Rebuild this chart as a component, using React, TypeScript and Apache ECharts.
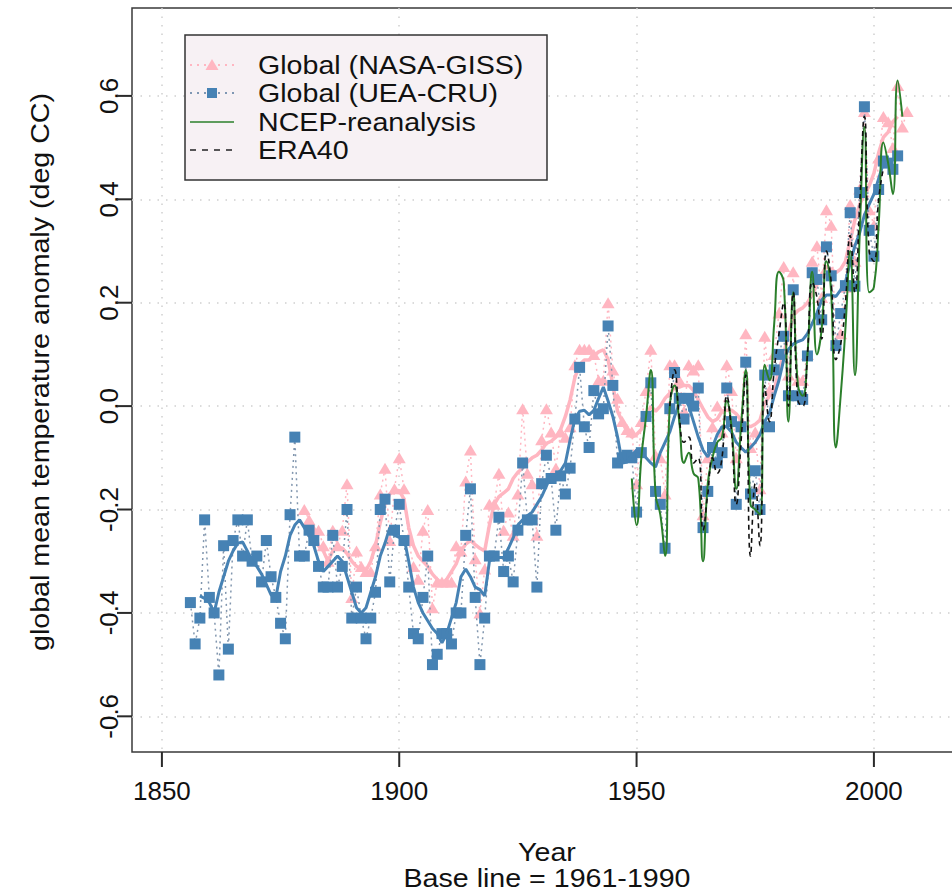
import React, { useEffect, useRef } from "react";
import * as echarts from "echarts";

// ---- data ----
const xTicks = [1850, 1900, 1950, 2000];
const yTicks = [-0.6, -0.4, -0.2, 0.0, 0.2, 0.4, 0.6];

// UEA-CRU annual global anomaly, 1856..2005
const cruStart = 1856;
const cruValues = [
  -0.38, -0.46, -0.41, -0.22, -0.37, -0.40, -0.52, -0.27, -0.47, -0.26,
  -0.22, -0.29, -0.22, -0.30, -0.29, -0.34, -0.26, -0.33, -0.37, -0.42,
  -0.45, -0.21, -0.06, -0.29, -0.29, -0.24, -0.26, -0.31, -0.35, -0.35,
  -0.25, -0.35, -0.31, -0.20, -0.41, -0.35, -0.41, -0.45, -0.41, -0.36,
  -0.20, -0.18, -0.34, -0.24, -0.19, -0.26, -0.35, -0.44, -0.45, -0.37,
  -0.29, -0.50, -0.48, -0.44, -0.44, -0.46, -0.40, -0.40, -0.25, -0.16,
  -0.37, -0.50, -0.41, -0.29, -0.29, -0.215, -0.32, -0.29, -0.34, -0.24,
  -0.11, -0.22, -0.22, -0.35, -0.15, -0.095, -0.14, -0.24, -0.135, -0.17,
  -0.12, -0.025, 0.075, -0.04, -0.08, 0.03, -0.015, -0.005, 0.155, 0.04,
  -0.11, -0.10, -0.095, -0.10, -0.205, -0.09, -0.02, 0.045, -0.165, -0.19,
  -0.275, -0.005, 0.065, 0.015, -0.025, 0.015, 0.0, 0.035, -0.235, -0.165,
  -0.08, -0.11, -0.09, 0.035, -0.03, -0.19, -0.04, 0.085, -0.17, -0.125,
  -0.20, 0.06, -0.04, 0.07, 0.10, 0.135, 0.02, 0.225, 0.02, 0.013,
  0.097, 0.258, 0.245, 0.167, 0.308, 0.252, 0.117, 0.179, 0.233, 0.374,
  0.232, 0.413, 0.579, 0.34, 0.29, 0.419, 0.474, 0.47, 0.458, 0.484,
];

// UEA-CRU smoothed curve, 1858..2003
const cruSmoothStart = 1858;
const cruSmoothValues = [
  -0.367, -0.372, -0.38, -0.40, -0.36, -0.33, -0.30, -0.28, -0.265, -0.263,
  -0.28, -0.30, -0.31, -0.325, -0.345, -0.365, -0.37, -0.32, -0.29, -0.25,
  -0.23, -0.22, -0.235, -0.25, -0.27, -0.30, -0.32, -0.31, -0.30, -0.29,
  -0.30, -0.33, -0.36, -0.39, -0.40, -0.39, -0.36, -0.33, -0.29, -0.265,
  -0.235, -0.25, -0.254, -0.254, -0.30, -0.35, -0.38, -0.40, -0.415, -0.43,
  -0.44, -0.458, -0.44, -0.41, -0.38, -0.33, -0.315, -0.33, -0.35, -0.355,
  -0.367, -0.30, -0.293, -0.293, -0.293, -0.275, -0.255, -0.23, -0.22, -0.212,
  -0.205, -0.19, -0.175, -0.155, -0.134, -0.132, -0.125, -0.11, -0.065, -0.025,
  -0.01, -0.008, -0.017, -0.008, 0.015, 0.037, 0.01, -0.02, -0.06, -0.11,
  -0.108, -0.095, -0.085, -0.09, -0.10, -0.11, -0.118, -0.09, -0.07, -0.05,
  -0.02, 0.005, 0.018, 0.0, -0.03, -0.06, -0.085, -0.098, -0.079, -0.055,
  -0.04, -0.04, -0.05, -0.07, -0.08, -0.089, -0.08, -0.07, -0.055, -0.03,
  -0.014, 0.02, 0.05, 0.09, 0.11, 0.12, 0.125, 0.128, 0.14, 0.16,
  0.18, 0.205, 0.215, 0.215, 0.212, 0.225, 0.24, 0.277, 0.31, 0.335,
  0.37, 0.39, 0.41, 0.44, 0.47, 0.475,
];

// NASA-GISS annual global anomaly, 1880..2007
const gissStart = 1880;
const gissValues = [
  -0.20, -0.22, -0.24, -0.24, -0.27, -0.30, -0.24, -0.27, -0.24, -0.15,
  -0.37, -0.28, -0.31, -0.32, -0.32, -0.27, -0.17, -0.12, -0.26, -0.16,
  -0.10, -0.16, -0.26, -0.31, -0.335, -0.24, -0.20, -0.39, -0.34, -0.34,
  -0.34, -0.34, -0.27, -0.28, -0.145, -0.085, -0.295, -0.40, -0.315, -0.19,
  -0.19, -0.13, -0.24, -0.205, -0.25, -0.17, -0.005, -0.13, -0.15, -0.25,
  -0.065, -0.005, -0.05, -0.12, -0.05, -0.06, -0.04, 0.08, 0.11, 0.11,
  0.11, 0.10, 0.05, 0.05, 0.20, 0.07, 0.015, -0.03, -0.045, -0.05,
  -0.15, -0.03, 0.03, 0.11, -0.095, -0.10, -0.17, 0.08, 0.08, 0.05,
  -0.01, 0.08, 0.07, 0.08, -0.21, -0.10, -0.04, 0.0, -0.05, 0.08,
  0.03, -0.10, -0.03, 0.14, -0.08, -0.05, -0.16, 0.135, 0.03, 0.10,
  0.18, 0.27, 0.06, 0.26, 0.05, 0.05, 0.10, 0.28, 0.31, 0.21,
  0.38, 0.35, 0.12, 0.14, 0.23, 0.39, 0.28, 0.42, 0.57, 0.38,
  0.35, 0.48, 0.56, 0.55, 0.50, 0.62, 0.54, 0.57,
];

// NASA-GISS smoothed curve, 1882..2005
const gissSmoothStart = 1882;
const gissSmoothValues = [
  -0.24, -0.27, -0.28, -0.30, -0.28, -0.273, -0.275, -0.285, -0.30, -0.31,
  -0.315, -0.318, -0.30, -0.27, -0.225, -0.19, -0.17, -0.165, -0.163, -0.18,
  -0.235, -0.27, -0.29, -0.30, -0.31, -0.325, -0.335, -0.344, -0.335, -0.32,
  -0.305, -0.28, -0.267, -0.26, -0.268, -0.275, -0.28, -0.23, -0.19, -0.175,
  -0.168, -0.16, -0.14, -0.128, -0.12, -0.108, -0.10, -0.095, -0.085, -0.072,
  -0.068, -0.06, -0.045, -0.02, 0.012, 0.055, 0.08, 0.089, 0.089, 0.097,
  0.105, 0.109, 0.09, 0.04, -0.01, -0.03, -0.05, -0.06, -0.055, -0.045,
  -0.02, 0.0, -0.01, 0.0, 0.015, 0.025, 0.035, 0.037, 0.04, 0.04,
  0.03, 0.012, -0.005, -0.021, -0.03, -0.025, -0.01, -0.008, -0.008, -0.015,
  -0.027, -0.035, -0.04, -0.035, -0.027, 0.005, 0.02, 0.031, 0.07, 0.10,
  0.14, 0.175, 0.185, 0.19, 0.20, 0.215, 0.235, 0.255, 0.27, 0.265,
  0.258, 0.265, 0.28, 0.32, 0.36, 0.39, 0.41, 0.426, 0.45, 0.49,
  0.52, 0.53, 0.55, 0.56,
];

// NCEP reanalysis, 1949..2006
const ncepStart = 1949;
const ncepValues = [
  -0.14, -0.23, -0.10, -0.02, 0.07, -0.17, -0.21, -0.29, 0.0, 0.04,
  -0.03, -0.11, -0.09, -0.13, -0.14, -0.30, -0.15, -0.10, -0.07, -0.06,
  0.01, -0.04, -0.16, -0.04, 0.07, -0.19, -0.20, -0.21, 0.08, 0.05,
  0.16, 0.26, 0.24, -0.03, 0.22, 0.04, 0.02, 0.10, 0.26, 0.10,
  0.15, 0.28, 0.22, -0.08, 0.02, 0.15, 0.30, 0.06, 0.33, 0.54,
  0.22, 0.23, 0.35, 0.51, 0.47, 0.41, 0.63, 0.56,
];

// ERA40, 1957..2002
const eraStart = 1957;
const eraValues = [
  0.0, 0.07, -0.02, -0.07, -0.06, -0.11, -0.10, -0.24, -0.17, -0.10,
  -0.13, -0.10, 0.02, -0.05, -0.19, -0.07, 0.06, -0.29, -0.15, -0.27,
  0.04, -0.03, 0.07, 0.14, 0.20, 0.0, 0.22, 0.01, 0.0, 0.10,
  0.24, 0.21, 0.13, 0.30, 0.24, 0.09, 0.12, 0.20, 0.33, 0.22,
  0.39, 0.56, 0.30, 0.28, 0.40, 0.46,
];

const legendLabels = [
  "Global (NASA-GISS)",
  "Global (UEA-CRU)",
  "NCEP-reanalysis",
  "ERA40",
];
const xTitle = "Year";
const xSubtitle = "Base line = 1961-1990";
const yTitle = "global mean temperature anomaly (deg CC)";

// ---- styling / layout ----
const FONT = "'Liberation Sans', Arial, Helvetica, sans-serif";
const PINK = "#FFB6C1";
const BLUE = "#4682B4";
const GREEN = "#2b7f2b";
const FRAME = "#3a3a3a";
const GRID_L = 132;
const GRID_T = 8;
const GRID_W = 830;
const GRID_H = 744;
const X_MIN = 1843.7;
const X_MAX = 2018.56;
const Y_MIN = -0.669;
const Y_MAX = 0.77;
const TEXT_STRETCH = 1.1;
const TICK_LEN = 15;

const xFirst = xTicks[0];
const xLast = xTicks[xTicks.length - 1];
const yFirst = yTicks[0];
const yLast = yTicks[yTicks.length - 1];
// same linear mapping as the data grid (used only for tick/grid layout)
const xPx = (v: number) => GRID_L + ((v - X_MIN) / (X_MAX - X_MIN)) * GRID_W;
const yPx = (v: number) => GRID_T + ((Y_MAX - v) / (Y_MAX - Y_MIN)) * GRID_H;

const toPairs = (start: number, vals: number[]) =>
  vals.map((v, i) => [start + i, v]);

const textStyle = (text: string, align: string) => ({
  text,
  font: `26px ${FONT}`,
  fill: "#111",
  textAlign: align,
  textVerticalAlign: "middle",
  align,
  verticalAlign: "middle",
});

function buildLegend() {
  const left = 185;
  const top = 35;
  const rows = [65, 93, 122, 150];
  const lx0 = 190;
  const lx1 = 234;
  const mid = (lx0 + lx1) / 2;
  const els: any[] = [
    {
      type: "rect",
      shape: { x: left, y: top, width: 362, height: 145 },
      style: { fill: "#f7f1f4", stroke: "#333", lineWidth: 1.5 },
      z: 100,
    },
  ];
  els.push({
    type: "line",
    shape: { x1: lx0, y1: rows[0], x2: lx1, y2: rows[0] },
    style: { stroke: PINK, lineWidth: 2, lineDash: [2, 5] },
    z: 101,
  });
  els.push({
    type: "polygon",
    shape: {
      points: [
        [mid, rows[0] - 6],
        [mid + 6.5, rows[0] + 5],
        [mid - 6.5, rows[0] + 5],
      ],
    },
    style: { fill: PINK },
    z: 102,
  });
  els.push({
    type: "line",
    shape: { x1: lx0, y1: rows[1], x2: lx1, y2: rows[1] },
    style: { stroke: "#7f97b3", lineWidth: 2, lineDash: [2, 5] },
    z: 101,
  });
  els.push({
    type: "rect",
    shape: { x: mid - 5, y: rows[1] - 5, width: 10, height: 10 },
    style: { fill: BLUE },
    z: 102,
  });
  els.push({
    type: "line",
    shape: { x1: lx0, y1: rows[2], x2: lx1, y2: rows[2] },
    style: { stroke: GREEN, lineWidth: 1.5 },
    z: 101,
  });
  els.push({
    type: "line",
    shape: { x1: lx0, y1: rows[3], x2: lx1, y2: rows[3] },
    style: { stroke: "#222", lineWidth: 1.5, lineDash: [6, 6] },
    z: 101,
  });
  legendLabels.forEach((t, i) => {
    els.push({
      type: "text",
      x: 258,
      y: rows[i],
      scaleX: TEXT_STRETCH,
      style: textStyle(t, "left"),
      z: 103,
    });
  });
  return els;
}

// tick marks outside the frame, as thin filled rects
function buildTicks() {
  const bottom = GRID_T + GRID_H;
  const els: any[] = [];
  xTicks.forEach((v) => {
    const p = xPx(v);
    els.push({
      type: "rect",
      shape: { x: p - 1, y: bottom, width: 2, height: TICK_LEN },
      style: { fill: "#2a2a2a", stroke: "none" },
      z: 100,
    });
  });
  yTicks.forEach((v) => {
    const p = yPx(v);
    els.push({
      type: "rect",
      shape: { x: GRID_L - TICK_LEN, y: p - 1, width: TICK_LEN, height: 2 },
      style: { fill: "#2a2a2a", stroke: "none" },
      z: 100,
    });
  });
  return els;
}

export default function App() {
  const ref = useRef<HTMLDivElement>(null);

  useEffect(() => {
    if (!ref.current) return;
    const chart = echarts.init(ref.current, undefined, { renderer: "svg" });

    const hiddenAxis = (gridIndex: number, min: number, max: number) => ({
      type: "value",
      gridIndex,
      min,
      max,
      show: false,
      axisLine: { show: false, onZero: false },
      axisTick: { show: false },
      axisLabel: { show: false },
      splitLine: { show: false },
    });

    const gridLineStyle = { color: "#cfcfcf", width: 1.5, type: [1.5, 7] };
    const labelBase = {
      fontSize: 26,
      lineHeight: 26,
      color: "#111",
      fontFamily: FONT,
    };

    const xTickInterval = xTicks[1] - xTicks[0];
    const yTickInterval = +(yTicks[1] - yTicks[0]).toFixed(6);

    const option: any = {
      animation: false,
      backgroundColor: "#ffffff",
      grid: [
        {
          left: GRID_L,
          top: GRID_T,
          width: GRID_W,
          height: GRID_H,
          show: true,
          borderColor: FRAME,
          borderWidth: 1.5,
          backgroundColor: "transparent",
        },
        {
          left: xPx(xFirst),
          top: GRID_T,
          width: xPx(xLast) - xPx(xFirst),
          height: GRID_H,
          show: false,
        },
        {
          left: GRID_L,
          top: yPx(yLast),
          width: GRID_W,
          height: yPx(yFirst) - yPx(yLast),
          show: false,
        },
      ],
      xAxis: [
        hiddenAxis(0, X_MIN, X_MAX),
        {
          type: "value",
          gridIndex: 1,
          min: xFirst,
          max: xLast,
          interval: xTickInterval,
          position: "bottom",
          axisLine: { show: false, onZero: false },
          axisTick: { show: false },
          axisLabel: {
            ...labelBase,
            margin: 26,
            formatter: (v: number) => String(Math.round(v)),
          },
          splitLine: { show: true, lineStyle: gridLineStyle },
        },
        hiddenAxis(2, 0, 1),
      ],
      yAxis: [
        hiddenAxis(0, Y_MIN, Y_MAX),
        hiddenAxis(1, 0, 1),
        {
          type: "value",
          gridIndex: 2,
          min: yFirst,
          max: yLast,
          interval: yTickInterval,
          position: "left",
          axisLine: { show: false, onZero: false },
          axisTick: { show: false },
          axisLabel: {
            ...labelBase,
            rotate: 90,
            margin: 10,
            formatter: (v: number) => v.toFixed(1),
          },
          splitLine: { show: true, lineStyle: gridLineStyle },
        },
      ],
      series: [
        {
          name: legendLabels[0],
          type: "line",
          xAxisIndex: 0,
          yAxisIndex: 0,
          data: toPairs(gissStart, gissValues),
          symbol: "triangle",
          symbolSize: [13, 11],
          itemStyle: { color: PINK },
          lineStyle: { color: PINK, width: 1.5, type: [2, 4] },
          z: 2,
        },
        {
          name: "giss-smooth",
          type: "line",
          xAxisIndex: 0,
          yAxisIndex: 0,
          data: toPairs(gissSmoothStart, gissSmoothValues),
          symbol: "none",
          lineStyle: { color: PINK, width: 3.5 },
          z: 3,
        },
        {
          name: legendLabels[1],
          type: "line",
          xAxisIndex: 0,
          yAxisIndex: 0,
          data: toPairs(cruStart, cruValues),
          symbol: "rect",
          symbolSize: 11,
          itemStyle: { color: BLUE },
          lineStyle: { color: "#8196ae", width: 1.5, type: [2, 4] },
          z: 4,
        },
        {
          name: "cru-smooth",
          type: "line",
          xAxisIndex: 0,
          yAxisIndex: 0,
          data: toPairs(cruSmoothStart, cruSmoothValues),
          symbol: "none",
          lineStyle: { color: BLUE, width: 3 },
          z: 5,
        },
        {
          name: legendLabels[2],
          type: "line",
          xAxisIndex: 0,
          yAxisIndex: 0,
          data: toPairs(ncepStart, ncepValues),
          symbol: "none",
          smooth: 0.5,
          lineStyle: { color: GREEN, width: 2 },
          z: 6,
        },
        {
          name: legendLabels[3],
          type: "line",
          xAxisIndex: 0,
          yAxisIndex: 0,
          data: toPairs(eraStart, eraValues),
          symbol: "none",
          smooth: 0.5,
          lineStyle: { color: "#111", width: 1.6, type: [5, 4] },
          z: 7,
        },
      ],
      graphic: [
        ...buildLegend(),
        ...buildTicks(),
        {
          type: "text",
          x: 40,
          y: 372,
          rotation: Math.PI / 2,
          scaleX: TEXT_STRETCH,
          style: textStyle(yTitle, "center"),
        },
        {
          type: "text",
          x: 547,
          y: 852,
          scaleX: TEXT_STRETCH,
          style: textStyle(xTitle, "center"),
        },
        {
          type: "text",
          x: 547,
          y: 878,
          scaleX: TEXT_STRETCH,
          style: textStyle(xSubtitle, "center"),
        },
      ],
    };

    chart.setOption(option);
    return () => chart.dispose();
  }, []);

  return (
    <div
      ref={ref}
      style={{
        position: "absolute",
        left: 0,
        top: 0,
        width: 970,
        height: 893,
        background: "#fff",
      }}
    />
  );
}
